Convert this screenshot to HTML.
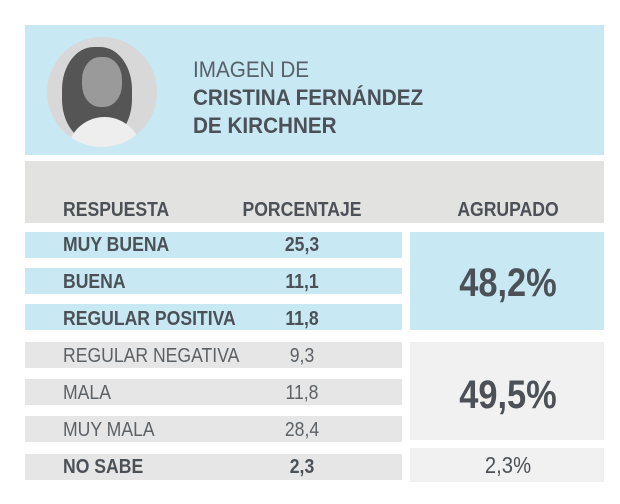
<!DOCTYPE html>
<html><head><style>
body{margin:0;width:620px;height:504px;background:#fff;position:relative;overflow:hidden;font-family:"Liberation Sans",sans-serif;color:#4b5157}
div{position:absolute}
.t{white-space:nowrap;transform-origin:0 50%;transform:scaleX(0.88);line-height:1;font-size:20px}
.c{white-space:nowrap;line-height:1;transform:translateX(-50%) scaleX(0.88);transform-origin:50% 50%;font-size:20px}
.b{font-weight:bold}
.bl{background:#c8e8f3}
.gr{background:#e6e6e6}
.lg{background:#f1f1f1}
</style></head><body>
<div class="bl" style="left:25px;top:25px;width:579px;height:130px"></div>
<div style="left:47px;top:37px;width:110px;height:110px;border-radius:50%;overflow:hidden;background:#d8d8d8">
 <div style="left:15px;top:10px;width:70px;height:95px;border-radius:45%;background:#555"></div>
 <div style="left:35px;top:20px;width:40px;height:50px;border-radius:45%;background:#9a9a9a"></div>
 <div style="left:20px;top:80px;width:75px;height:40px;border-radius:40px 40px 0 0;background:#eee"></div>
</div>
<div class="t" style="left:193px;top:59px;font-size:22px;color:#566068;transform:scaleX(0.94)">IMAGEN DE</div>
<div class="t b" style="left:193px;top:87px;font-size:22px;transform:scaleX(0.94)">CRISTINA FERNÁNDEZ</div>
<div class="t b" style="left:193px;top:115px;font-size:22px;transform:scaleX(0.94)">DE KIRCHNER</div>
<div class="gr" style="left:25px;top:161px;width:579px;height:62px;background:#e2e2e0"></div>
<div class="t b" style="left:63px;top:200px">RESPUESTA</div>
<div class="c b" style="left:302px;top:200px">PORCENTAJE</div>
<div class="c b" style="left:508px;top:200px">AGRUPADO</div>

<div class="bl" style="left:25px;top:232px;width:377px;height:26px"></div>
<div class="bl" style="left:25px;top:268px;width:377px;height:26px"></div>
<div class="bl" style="left:25px;top:304px;width:377px;height:26px"></div>
<div class="gr" style="left:25px;top:342px;width:377px;height:26px"></div>
<div class="gr" style="left:25px;top:379px;width:377px;height:26px"></div>
<div class="gr" style="left:25px;top:416px;width:377px;height:26px"></div>
<div class="gr" style="left:25px;top:454px;width:377px;height:26px"></div>
<div class="bl" style="left:410px;top:232px;width:194px;height:98px"></div>
<div class="lg" style="left:410px;top:342px;width:194px;height:98px"></div>
<div class="lg" style="left:410px;top:448px;width:194px;height:34px"></div>

<div class="t b" style="left:63px;top:235px">MUY BUENA</div>
<div class="c b" style="left:302px;top:235px">25,3</div>
<div class="t b" style="left:63px;top:272px">BUENA</div>
<div class="c b" style="left:302px;top:272px">11,1</div>
<div class="t b" style="left:63px;top:309px">REGULAR POSITIVA</div>
<div class="c b" style="left:302px;top:309px">11,8</div>
<div class="t" style="left:63px;top:346px;color:#5c6166">REGULAR NEGATIVA</div>
<div class="c" style="left:302px;top:346px;color:#5c6166">9,3</div>
<div class="t" style="left:63px;top:383px;color:#5c6166">MALA</div>
<div class="c" style="left:302px;top:383px;color:#5c6166">11,8</div>
<div class="t" style="left:63px;top:420px;color:#5c6166">MUY MALA</div>
<div class="c" style="left:302px;top:420px;color:#5c6166">28,4</div>
<div class="t b" style="left:63px;top:457px">NO SABE</div>
<div class="c b" style="left:302px;top:457px">2,3</div>

<div class="c b" style="left:508px;top:263px;font-size:40px;transform:translateX(-50%) scaleX(0.86)">48,2%</div>
<div class="c b" style="left:508px;top:375px;font-size:40px;transform:translateX(-50%) scaleX(0.86)">49,5%</div>
<div class="c" style="left:508px;top:454px;font-size:23px">2,3%</div>
</body></html>
